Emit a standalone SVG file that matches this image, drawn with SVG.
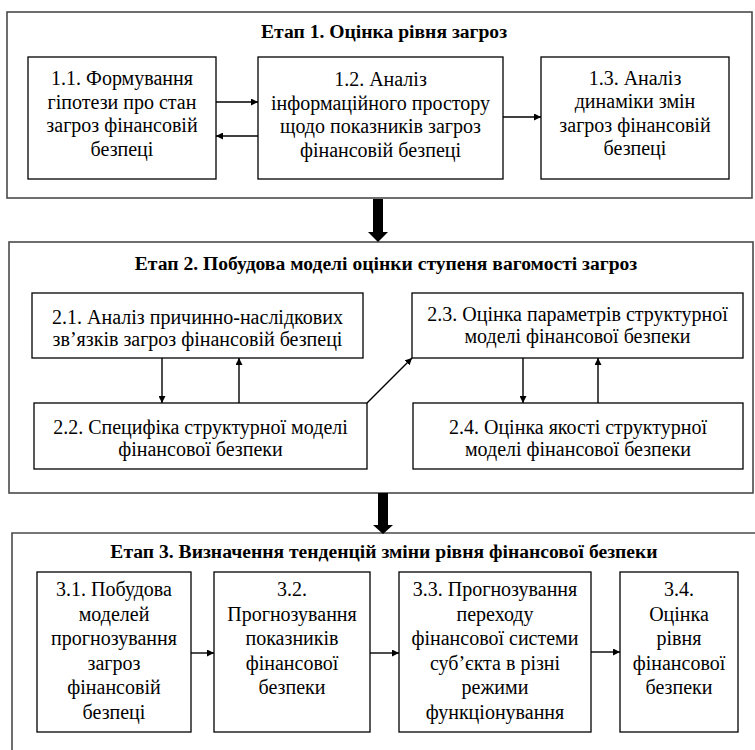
<svg xmlns="http://www.w3.org/2000/svg" width="755" height="750" viewBox="0 0 755 750">
<defs>
<style>
.stage{fill:none;stroke:#4a4a4a;stroke-width:1.6}
.box{fill:#fff;stroke:#000;stroke-width:1.3}
.t{font-family:"Liberation Serif","Times New Roman",serif;font-size:20px;fill:#000;text-anchor:middle}
.h{font-family:"Liberation Serif","Times New Roman",serif;font-size:19.6px;font-weight:bold;fill:#000;text-anchor:middle}
.c{stroke:#000;stroke-width:1.4;fill:none;marker-end:url(#ah)}
</style>
<marker id="ah" viewBox="0 0 10 10" refX="10" refY="5" markerWidth="7" markerHeight="7" markerUnits="userSpaceOnUse" orient="auto">
<path d="M0,0 L10,5 L0,10 z" fill="#000"/>
</marker>
</defs>
<rect width="755" height="750" fill="#fff"/>

<g id="stage1">
<rect class="stage" x="7" y="12" width="745" height="186"/>
<text class="h" x="384" y="38">Етап 1. Оцінка рівня загроз</text>
</g>
<g id="stage2">
<rect class="stage" x="9" y="242" width="744" height="251"/>
<text class="h" x="386" y="270">Етап 2. Побудова моделі оцінки ступеня вагомості загроз</text>
</g>
<g id="stage3">
<path class="stage" d="M12,752 V533 H757"/>
<text class="h" x="384" y="558">Етап 3. Визначення тенденцій зміни рівня фінансової безпеки</text>
</g>

<g id="n11">
<rect class="box" x="28" y="57" width="188" height="122"/>
<text class="t" x="122" y="85">1.1. Формування</text>
<text class="t" x="122" y="108.5">гіпотези про стан</text>
<text class="t" x="122" y="132">загроз фінансовій</text>
<text class="t" x="122" y="155.5">безпеці</text>
</g>
<g id="n12">
<rect class="box" x="258" y="57" width="245" height="122"/>
<text class="t" x="380.5" y="86">1.2. Аналіз</text>
<text class="t" x="380.5" y="109.5">інформаційного простору</text>
<text class="t" x="380.5" y="133">щодо показників загроз</text>
<text class="t" x="380.5" y="156.5">фінансовій безпеці</text>
</g>
<g id="n13">
<rect class="box" x="541" y="57" width="188" height="122"/>
<text class="t" x="635" y="84.5">1.3. Аналіз</text>
<text class="t" x="635" y="108">динаміки змін</text>
<text class="t" x="635" y="131.5">загроз фінансовій</text>
<text class="t" x="635" y="155">безпеці</text>
</g>

<g id="n21">
<rect class="box" x="32" y="293" width="331" height="65"/>
<text class="t" x="197.5" y="324">2.1. Аналіз причинно-наслідкових</text>
<text class="t" x="197.5" y="346">зв’язків загроз фінансовій безпеці</text>
</g>
<g id="n22">
<rect class="box" x="34" y="403" width="333" height="66"/>
<text class="t" x="200.5" y="434">2.2. Специфіка структурної моделі</text>
<text class="t" x="200.5" y="456">фінансової безпеки</text>
</g>
<g id="n23">
<rect class="box" x="412" y="293" width="331" height="65"/>
<text class="t" x="577.5" y="321">2.3. Оцінка параметрів структурної</text>
<text class="t" x="577.5" y="343">моделі фінансової безпеки</text>
</g>
<g id="n24">
<rect class="box" x="413" y="403" width="330" height="66"/>
<text class="t" x="578" y="434">2.4. Оцінка якості структурної</text>
<text class="t" x="578" y="456">моделі фінансової безпеки</text>
</g>

<g id="n31">
<rect class="box" x="37" y="572" width="154" height="160"/>
<text class="t" x="114" y="596">3.1. Побудова</text>
<text class="t" x="114" y="620.5">моделей</text>
<text class="t" x="114" y="645">прогнозування</text>
<text class="t" x="114" y="669.5">загроз</text>
<text class="t" x="114" y="694">фінансовій</text>
<text class="t" x="114" y="718.5">безпеці</text>
</g>
<g id="n32">
<rect class="box" x="214" y="572" width="156" height="160"/>
<text class="t" x="292" y="596">3.2.</text>
<text class="t" x="292" y="620.5">Прогнозування</text>
<text class="t" x="292" y="645">показників</text>
<text class="t" x="292" y="669.5">фінансової</text>
<text class="t" x="292" y="694">безпеки</text>
</g>
<g id="n33">
<rect class="box" x="399" y="572" width="192" height="160"/>
<text class="t" x="495" y="596">3.3. Прогнозування</text>
<text class="t" x="495" y="620.5">переходу</text>
<text class="t" x="495" y="645">фінансової системи</text>
<text class="t" x="495" y="669.5">суб’єкта в різні</text>
<text class="t" x="495" y="694">режими</text>
<text class="t" x="495" y="718.5">функціонування</text>
</g>
<g id="n34">
<rect class="box" x="620" y="572" width="118" height="160"/>
<text class="t" x="679" y="596">3.4.</text>
<text class="t" x="679" y="620.5">Оцінка</text>
<text class="t" x="679" y="645">рівня</text>
<text class="t" x="679" y="669.5">фінансової</text>
<text class="t" x="679" y="694">безпеки</text>
</g>

<g id="connectors">
<line class="c" x1="216" y1="102" x2="258" y2="102"/>
<line class="c" x1="258" y1="136" x2="216" y2="136"/>
<line class="c" x1="503" y1="117" x2="541" y2="117"/>
<line class="c" x1="162" y1="358" x2="162" y2="403"/>
<line class="c" x1="239" y1="403" x2="239" y2="358"/>
<line class="c" x1="367" y1="403" x2="412" y2="358"/>
<line class="c" x1="523" y1="358" x2="523" y2="403"/>
<line class="c" x1="598" y1="403" x2="598" y2="358"/>
<line class="c" x1="191" y1="653" x2="214" y2="653"/>
<line class="c" x1="370" y1="653" x2="399" y2="653"/>
<line class="c" x1="591" y1="652" x2="620" y2="652"/>
<polygon points="373,199 383,199 383,232 388,232 378,242 368,232 373,232" fill="#000"/>
<polygon points="378,493 388,493 388,525 393,525 383,534 373,525 378,525" fill="#000"/>
</g>
</svg>
